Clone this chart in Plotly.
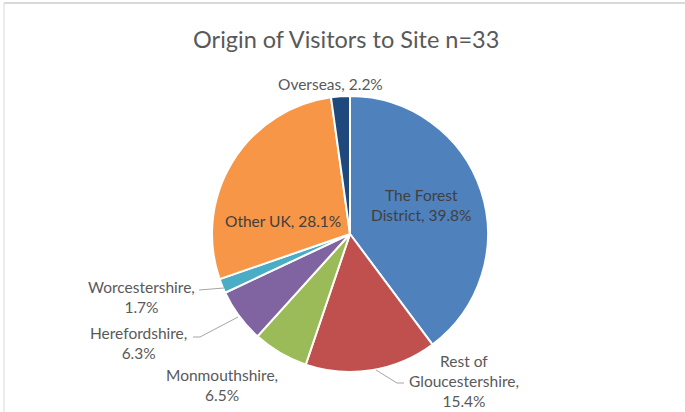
import plotly.graph_objects as go

# ---- data ----
categories = ["The Forest District", "Rest of Gloucestershire", "Monmouthshire",
              "Herefordshire", "Worcestershire", "Other UK", "Overseas"]
percentages = [39.8, 15.4, 6.5, 6.3, 1.7, 28.1, 2.2]
colors = ["#4F81BD", "#C0504D", "#9BBB59", "#8064A2", "#4BACC6", "#F79646", "#1F497D"]
title_text = "Origin of Visitors to Site n=33"

W, H = 685, 412
cx, cy, r = 350, 234, 138

def px(x):
    return x / W

def py(y):
    return 1 - y / H

fig = go.Figure(go.Pie(
    labels=categories,
    values=percentages,
    sort=False,
    direction="clockwise",
    rotation=0,
    marker=dict(colors=colors, line=dict(color="white", width=2)),
    textinfo="none",
    hoverinfo="label+percent",
    domain=dict(x=[px(cx - r), px(cx + r)], y=[py(cy + r), py(cy - r)]),
    showlegend=False,
))

# label layout (line breaks and pixel positions)
label_fmt = {
    "The Forest District": ("The Forest<br>District, {v}%", 421, 205, "#404040"),
    "Rest of Gloucestershire": ("Rest of<br>Gloucestershire,<br>{v}%", 464, 381, "#595959"),
    "Monmouthshire": ("Monmouthshire,<br>{v}%", 222, 385, "#595959"),
    "Herefordshire": ("Herefordshire,<br>{v}%", 138, 343, "#595959"),
    "Worcestershire": ("Worcestershire,<br>{v}%", 141, 297, "#595959"),
    "Other UK": ("Other UK, {v}%", 283, 221, "#404040"),
    "Overseas": ("Overseas, {v}%", 330, 84, "#595959"),
}

FONT = "Lato, 'Open Sans', sans-serif"
annotations = [dict(
    text=title_text, x=px(346), y=py(39), xref="paper", yref="paper",
    showarrow=False, xanchor="center", yanchor="middle",
    font=dict(family=FONT, size=23.5, color="#595959"))]

for name, val in zip(categories, percentages):
    fmt, x, y, col = label_fmt[name]
    annotations.append(dict(
        text=fmt.format(v=val), x=px(x), y=py(y), xref="paper", yref="paper",
        showarrow=False, xanchor="center", yanchor="middle", align="center",
        font=dict(family=FONT, size=15.5, color=col)))

leader = "#A6A6A6"
shapes = [
    dict(type="path", path=f"M {px(199)},{py(290)} L {px(224)},{py(288)}"),
    dict(type="path", path=f"M {px(193)},{py(337)} L {px(200)},{py(337)} L {px(238)},{py(317)}"),
    dict(type="path", path=f"M {px(376)},{py(370)} L {px(397)},{py(383)} L {px(404)},{py(383)}"),
]
for s in shapes:
    s.update(xref="paper", yref="paper", line=dict(color=leader, width=1))

# chart frame
shapes.append(dict(type="line", xref="paper", yref="paper", x0=px(4), x1=1, y0=py(3), y1=py(3),
                   line=dict(color="#D9D9D9", width=2)))
shapes.append(dict(type="line", xref="paper", yref="paper", x0=px(4), x1=px(4), y0=py(3), y1=0,
                   line=dict(color="#D9D9D9", width=1)))

fig.update_layout(
    width=W, height=H,
    margin=dict(l=0, r=0, t=0, b=0),
    paper_bgcolor="white",
    plot_bgcolor="white",
    annotations=annotations,
    shapes=shapes,
)

fig.write_html("out.html", config={"displayModeBar": False},
               post_script="document.body.style.margin='0';document.body.style.overflow='hidden';")
